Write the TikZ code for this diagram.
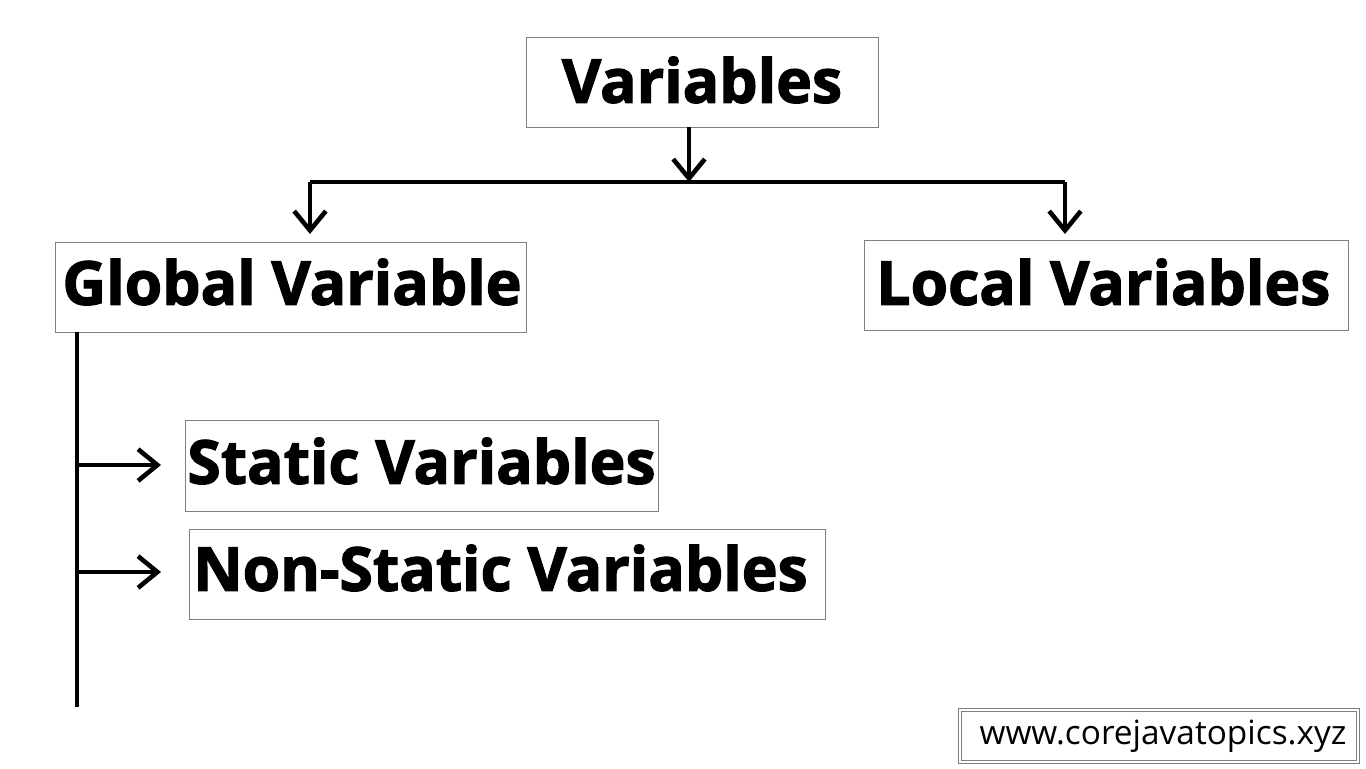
\documentclass[tikz,border=0pt]{standalone}
\usepackage{fontspec}
\setmainfont{Open Sans}[BoldFeatures={FakeBold=2}]
\usetikzlibrary{arrows.meta}
\begin{document}
\begin{tikzpicture}[x=0.02cm,y=-0.02cm,
  box/.style={draw=black!50,line width=0.5pt,inner sep=0pt},
  big/.style={font=\fontsize{34.5}{40}\selectfont\bfseries,inner sep=0pt},
  conn/.style={line width=2.6pt},
  arr/.style={conn,-{Straight Barb[length=11pt,width=18pt,line width=2.6pt]}}]
\useasboundingbox (0,0) rectangle (1366,768);
\node[box,minimum width=352*0.02cm,minimum height=90*0.02cm] (var) at (702,82) {};
\node[big] at (702,80) {Variables};
\node[box,minimum width=471*0.02cm,minimum height=90*0.02cm] (glob) at (290.5,287) {};
\node[big,anchor=west] at (62,282) {Global Variable};
\node[box,minimum width=484*0.02cm,minimum height=90*0.02cm] (loc) at (1106,285) {};
\node[big,anchor=west] at (876,282) {Local Variables};
\node[box,minimum width=473*0.02cm,minimum height=91*0.02cm] (stat) at (421.5,465.5) {};
\node[big,anchor=west] at (187,461) {Static Variables};
\node[box,minimum width=636*0.02cm,minimum height=90*0.02cm] (nons) at (507,574) {};
\node[big,anchor=west] at (193,568) {Non-Static Variables};
\node[box,double,double distance=1pt,minimum width=398*0.02cm,minimum height=52*0.02cm] (www) at (1159,736) {};
\node[font=\fontsize{19}{24}\selectfont] at (1163,736) {www.corejavatopics.xyz};
\coordinate (j) at (689,182);
\coordinate (l) at (310,182);
\coordinate (r) at (1065,182);
\coordinate (gb) at (77,707);
\coordinate (s) at (77,465);
\coordinate (n) at (77,572);
\draw[arr] (var.south -| j) -- (j);
\draw[conn] (l) -- (r);
\draw[arr] (l) -- (310,234);
\draw[arr] (r) -- (1065,234);
\draw[conn] (77,332) -- (gb);
\draw[arr] (s) -- (161,465);
\draw[arr] (n) -- (161,572);
\end{tikzpicture}
\end{document}
